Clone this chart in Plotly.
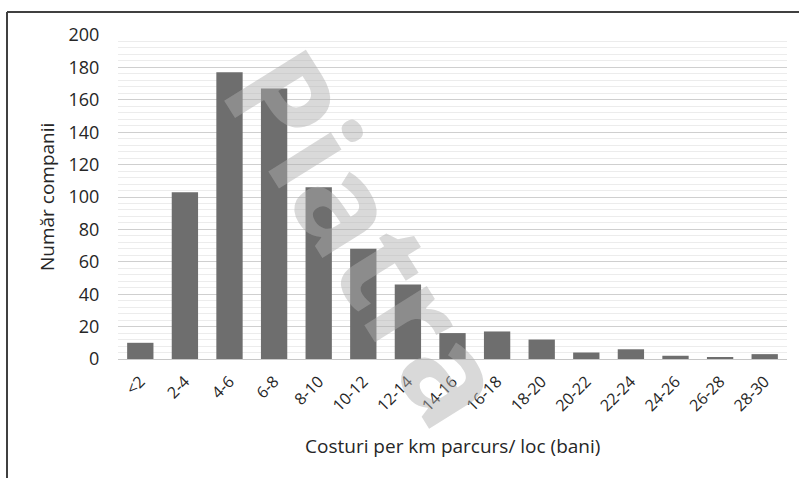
import plotly.graph_objects as go

categories = ["<2", "2-4", "4-6", "6-8", "8-10", "10-12", "12-14", "14-16",
              "16-18", "18-20", "20-22", "22-24", "24-26", "26-28", "28-30"]
companies = [10, 103, 177, 167, 106, 68, 46, 16, 17, 12, 4, 6, 2, 1, 3]
y_ticks = [0, 20, 40, 60, 80, 100, 120, 140, 160, 180, 200]

W, H = 799, 478
ML, MR, MT, MB = 118, 12, 35, 119
pw, ph = W - ML - MR, H - MT - MB

def px(x):
    return (x - ML) / pw

def py(y):
    return (H - MB - y) / ph

fig = go.Figure(go.Bar(
    x=categories, y=companies,
    marker=dict(color="#6e6e6e", line=dict(width=0)),
))

fig.update_layout(
    width=W, height=H,
    margin=dict(l=ML, r=MR, t=MT, b=MB),
    paper_bgcolor="white", plot_bgcolor="white",
    bargap=0.41, showlegend=False,
    font=dict(family="Open Sans, Lato, sans-serif", color="#262626", size=14),
    xaxis=dict(
        type="category", automargin=False,
        tickangle=-45, tickfont=dict(size=16),
        showline=True, linecolor="#c8c8c8", linewidth=1,
        ticks="outside", ticklen=6, tickcolor="rgba(0,0,0,0)",
        showgrid=False,
    ),
    yaxis=dict(
        range=[0, 200], tickvals=y_ticks, tickfont=dict(size=18),
        automargin=False,
        showgrid=True, gridcolor="#cfcfcf", gridwidth=1,
        minor=dict(dtick=4, showgrid=True, gridcolor="#ececec", gridwidth=1),
        ticks="outside", ticklen=14, tickcolor="rgba(0,0,0,0)",
        zeroline=False,
    ),
    shapes=[
        dict(type="line", xref="paper", yref="paper",
             x0=px(7), x1=px(800), y0=py(12), y1=py(12),
             line=dict(color="#404040", width=2)),
        dict(type="line", xref="paper", yref="paper",
             x0=px(7), x1=px(7), y0=py(12), y1=py(480),
             line=dict(color="#404040", width=2)),
    ],
    annotations=[
        dict(text="Costuri per km parcurs/ loc (bani)", xref="paper", yref="paper",
             x=px(452), y=py(446), showarrow=False, xanchor="center", yanchor="middle",
             font=dict(size=19, color="#262626")),
        dict(text="Număr companii", xref="paper", yref="paper",
             x=px(47), y=py(197), showarrow=False, textangle=-90,
             xanchor="center", yanchor="middle",
             font=dict(size=19, color="#262626")),
        dict(text="<b>Piatra</b>", xref="paper", yref="paper",
             x=px(370), y=py(236), showarrow=False, textangle=58,
             font=dict(size=135, family="Open Sans, sans-serif", color="rgba(174,174,174,0.47)")),
    ],
)

fig.write_html("out.html", post_script="document.body.style.margin='0';",
               config={"displayModeBar": False})
